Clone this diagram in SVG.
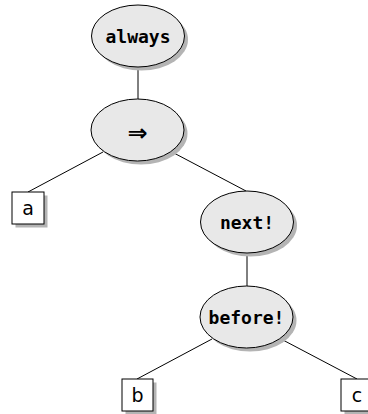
<svg xmlns="http://www.w3.org/2000/svg" width="368" height="414" viewBox="0 0 368 414">
<defs>
<style>
.sh{fill:#b4b4b4;stroke:none}
.el{fill:#e8e8e8;stroke:#000;stroke-width:1}
.bx{fill:#fff;stroke:#000;stroke-width:1}
.edge{stroke:#000;stroke-width:1;fill:none}
.op{font-family:"DejaVu Sans Mono",monospace;font-weight:bold;font-size:18px;text-anchor:middle;fill:#000}
.lf{font-family:"DejaVu Sans",sans-serif;font-size:19px;text-anchor:middle;fill:#000}
.sym{font-family:"DejaVu Sans",sans-serif;font-weight:bold;font-size:24px;text-anchor:middle;fill:#000}
</style>
</defs>
<rect width="368" height="414" fill="#fff"/>
<g id="connectors">
<line class="edge" x1="138" y1="67" x2="138" y2="99"/>
<line class="edge" x1="103" y1="152" x2="28" y2="192"/>
<line class="edge" x1="172" y1="152" x2="246" y2="191"/>
<line class="edge" x1="247" y1="253" x2="247" y2="286"/>
<line class="edge" x1="212" y1="339" x2="137" y2="379"/>
<line class="edge" x1="281" y1="339" x2="357" y2="379"/>
</g>
<g id="n-always">
<ellipse class="sh" cx="141.5" cy="39.5" rx="46.5" ry="31"/>
<ellipse class="el" cx="138" cy="36" rx="46.5" ry="31"/>
<text class="op" x="138" y="43">always</text>
</g>
<g id="n-implies">
<ellipse class="sh" cx="141" cy="133.5" rx="46.5" ry="31"/>
<ellipse class="el" cx="137.5" cy="130" rx="46.5" ry="31"/>
<text class="sym" x="137.5" y="140.5">⇒</text>
</g>
<g id="n-a">
<rect class="sh" x="15.5" y="195.5" width="32" height="32"/>
<rect class="bx" x="12" y="192" width="32" height="32"/>
<text class="lf" x="28" y="214.5">a</text>
</g>
<g id="n-next">
<ellipse class="sh" cx="250.5" cy="225.5" rx="46.5" ry="31"/>
<ellipse class="el" cx="247" cy="222" rx="46.5" ry="31"/>
<text class="op" x="247" y="229">next!</text>
</g>
<g id="n-before">
<ellipse class="sh" cx="250" cy="320.5" rx="46.5" ry="31"/>
<ellipse class="el" cx="246.5" cy="317" rx="46.5" ry="31"/>
<text class="op" x="246.5" y="324">before!</text>
</g>
<g id="n-b">
<rect class="sh" x="125.5" y="382.5" width="31" height="32"/>
<rect class="bx" x="122" y="379" width="31" height="32"/>
<text class="lf" x="137.5" y="401.5">b</text>
</g>
<g id="n-c">
<rect class="sh" x="344.5" y="382.5" width="32" height="32"/>
<rect class="bx" x="341" y="379" width="32" height="32"/>
<text class="lf" x="357" y="401.5">c</text>
</g>
</svg>
